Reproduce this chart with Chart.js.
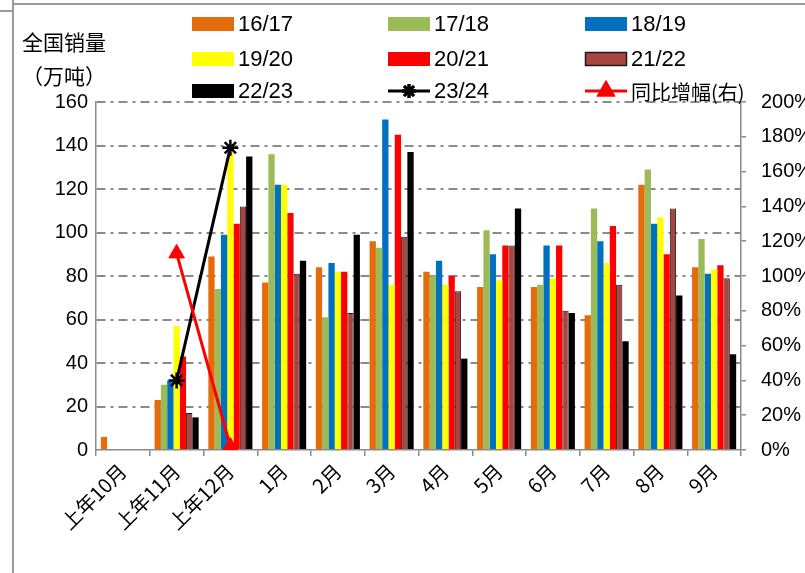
<!DOCTYPE html>
<html>
<head>
<meta charset="utf-8">
<title>全国销量</title>
<script src="https://cdn.jsdelivr.net/npm/chart.js@4"></script>
<style>
  body { margin: 0; background: #fff; }
  #box { width: 805px; height: 573px; }
</style>
</head>
<body>
<div id="box"><canvas id="sales-chart" width="805" height="573"></canvas></div>
<script>
// 全国销量（万吨），各年度按月
const months = ['上年10月', '上年11月', '上年12月', '1月', '2月', '3月', '4月', '5月', '6月', '7月', '8月', '9月'];
const s1617 = [6, 23, 89, 77, 84, 96, 82, 75, 75, 62, 122, 84];
const s1718 = [null, 30, 74, 136, 61, 93, 80, 101, 76, 111, 129, 97];
const s1819 = [null, 32, 99, 122, 86, 152, 87, 90, 94, 96, 104, 81];
const s1920 = [null, 57, 137, 122, 82, 76, 76, 78, 79, 86, 107, 83];
const s2021 = [null, 43, 104, 109, 82, 145, 80, 94, 94, 103, 90, 85];
const s2122 = [null, 17, 112, 81, 63, 98, 73, 94, 64, 76, 111, 79];
const s2223 = [null, 15, 135, 87, 99, 137, 42, 111, 63, 50, 71, 44];
const s2324 = [null, 32, 139, null, null, null, null, null, null, null, null, null];
// 同比增幅(%)，右轴
const yoy = [null, 113, 2, null, null, null, null, null, null, null, null, null];

const leftTicks = [0, 160, 20];
const rightTicks = [0, 200, 20];

const NUM_FONT = '"Liberation Sans Narrow", "Arial Narrow", "Liberation Sans", sans-serif';
const CJK_FONT = '"Noto Sans CJK SC", "Noto Sans", sans-serif';
const GRID = '#8a8a8a';

function bar(label, data, color, border) {
    return {
        type: 'bar', label: label, data: data, order: 3,
        backgroundColor: color,
        borderColor: border || color,
        borderWidth: border ? 1 : 0,
        barPercentage: 1, categoryPercentage: 0.82,
        yAxisID: 'y'
    };
}

const datasets = [
    bar('16/17', s1617, '#E46C0A'),
    bar('17/18', s1718, '#9BBB59'),
    bar('18/19', s1819, '#0070C0'),
    bar('19/20', s1920, '#FFFF00'),
    bar('20/21', s2021, '#FF0000'),
    bar('21/22', s2122, '#A9443F', '#1a1a1a'),
    bar('22/23', s2223, '#000000'),
    {
        type: 'line', label: '23/24', data: s2324, order: 2, yAxisID: 'y',
        borderColor: '#000', borderWidth: 3, tension: 0,
        pointStyle: 'star', pointRadius: 8, pointBorderWidth: 2.5,
        pointBorderColor: '#000', pointBackgroundColor: '#000'
    },
    {
        type: 'line', label: '同比增幅(右)', data: yoy, order: 1, yAxisID: 'y1',
        borderColor: '#FF0000', borderWidth: 3, tension: 0,
        pointStyle: 'triangle', pointRadius: 9, pointBorderWidth: 1,
        pointBorderColor: '#FF0000', pointBackgroundColor: '#FF0000'
    }
];

// frame, unit title and the 3x3 legend grid
const decorations = {
    id: 'decorations',
    afterDraw(chart) {
        const ctx = chart.ctx;
        ctx.save();
        ctx.strokeStyle = '#9a9a9a';
        ctx.lineWidth = 2;
        ctx.beginPath();
        ctx.moveTo(13, 0); ctx.lineTo(13, 573);
        ctx.moveTo(13, 4); ctx.lineTo(805, 4);
        ctx.moveTo(0, 11); ctx.lineTo(13, 11);
        ctx.stroke();

        ctx.fillStyle = '#000';
        ctx.textBaseline = 'middle';
        ctx.textAlign = 'left';
        ctx.font = '21px ' + CJK_FONT;
        ctx.fillText('全国销量', 22, 42);
        ctx.fillText('（万吨）', 22, 76);

        const colX = [192, 388, 585];
        const rowY = [24, 59, 91];
        chart.data.datasets.forEach((ds, i) => {
            const x = colX[i % 3], y = rowY[Math.floor(i / 3)];
            if (ds.type === 'bar') {
                ctx.fillStyle = ds.backgroundColor;
                ctx.fillRect(x, y - 7, 42, 14);
                if (ds.borderWidth) {
                    ctx.strokeStyle = ds.borderColor;
                    ctx.lineWidth = 1.5;
                    ctx.strokeRect(x + 0.5, y - 6.5, 41, 13);
                }
            } else {
                ctx.strokeStyle = ds.borderColor;
                ctx.lineWidth = 3;
                ctx.beginPath();
                ctx.moveTo(x, y); ctx.lineTo(x + 42, y);
                ctx.stroke();
                Chart.helpers.drawPoint(ctx, {
                    pointStyle: ds.pointStyle, radius: ds.pointRadius - 1,
                    borderWidth: ds.pointBorderWidth, rotation: 0
                }, x + 21, y);
                ctx.fillStyle = ds.pointBackgroundColor;
                ctx.strokeStyle = ds.pointBorderColor;
                ctx.fill();
                ctx.stroke();
            }
            ctx.fillStyle = '#000';
            ctx.font = (/[\u4e00-\u9fff]/.test(ds.label) ? '20px ' + CJK_FONT : '22px ' + NUM_FONT);
            ctx.fillText(ds.label, x + 46, y + 1);
        });
        ctx.restore();
    }
};

new Chart(document.querySelector('#sales-chart').getContext('2d'), {
    data: { labels: months, datasets: datasets },
    plugins: [decorations],
    options: {
        responsive: false,
        animation: false,
        devicePixelRatio: 1,
        layout: { padding: { top: 102, left: 0, right: 0, bottom: 0 } },
        plugins: { legend: { display: false }, tooltip: { enabled: false } },
        scales: {
            x: {
                offset: true,
                afterFit: s => { s.height = 123; },
                grid: { offset: true, drawOnChartArea: false, drawTicks: true, tickLength: 6, color: GRID, lineWidth: 1.5 },
                border: { display: true, color: GRID, width: 1.5 },
                ticks: {
                    autoSkip: false, minRotation: 45, maxRotation: 45, padding: 3,
                    color: '#000', font: { family: CJK_FONT, size: 20 }
                }
            },
            y: {
                position: 'left',
                min: leftTicks[0], max: leftTicks[1],
                afterFit: s => { s.width = 96; },
                grid: {
                    drawTicks: false, lineWidth: 2,
                    color: c => (c.tick && c.tick.value === 0 ? 'rgba(0,0,0,0)' : GRID)
                },
                border: { display: true, color: GRID, width: 1.5, dash: [9, 5, 3, 5] },
                ticks: {
                    stepSize: leftTicks[2], padding: 8, color: '#000',
                    font: { family: NUM_FONT, size: 20 }
                }
            },
            y1: {
                position: 'right',
                min: rightTicks[0], max: rightTicks[1],
                afterFit: s => { s.width = 64; },
                grid: { drawOnChartArea: false, drawTicks: true, tickLength: 5, color: GRID, lineWidth: 1.5 },
                border: { display: true, color: GRID, width: 1.5 },
                ticks: {
                    stepSize: rightTicks[2], padding: 15, color: '#000',
                    font: { family: NUM_FONT, size: 20 },
                    callback: v => v + '%'
                }
            }
        }
    }
});
</script>
</body>
</html>
